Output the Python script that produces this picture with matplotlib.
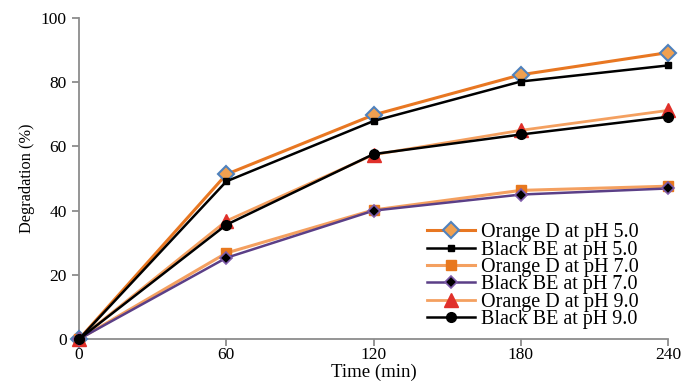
import matplotlib.pyplot as plt
import numpy as np

plt.rcParams['font.family'] = ['Liberation Serif', 'DejaVu Serif']

time = [0, 60, 120, 180, 240]
orange_ph5 = [0, 51.3, 69.8, 82.3, 89.2]
black_ph5 = [0, 49.1, 67.9, 80.2, 85.2]
orange_ph7 = [0, 26.8, 40.2, 46.3, 47.6]
black_ph7 = [0, 25.3, 40.0, 45.0, 46.9]
orange_ph9 = [0, 36.8, 57.4, 65.0, 71.2]
black_ph9 = [0, 35.6, 57.6, 63.7, 69.2]

fig = plt.figure(figsize=(6.88, 3.81), dpi=100)
ax = fig.add_axes([0.115, 0.110, 0.856, 0.843])

# 線とマーカー
ax.plot(time, orange_ph5, color='#E87722', lw=2.2, marker='D', ms=8,
        mfc='#F0A050', mec='#4F81BD', mew=1.5, label='Orange D at pH 5.0', zorder=3)
ax.plot(time, black_ph5, color='black', lw=1.8, marker='s', ms=5,
        label='Black BE at pH 5.0', zorder=4)
ax.plot(time, orange_ph7, color='#F4A060', lw=2.2, marker='s', ms=7,
        mfc='#E8781E', mec='#E8781E', label='Orange D at pH 7.0', zorder=3)
ax.plot(time, black_ph7, color='#5B3F87', lw=1.8, marker='D', ms=6,
        mfc='black', mec='#7E5BAA', mew=1.2, label='Black BE at pH 7.0', zorder=4)
ax.plot(time, orange_ph9, color='#F4A060', lw=2.0, marker='^', ms=10,
        mfc='#E0302A', mec='#E0302A', label='Orange D at pH 9.0', zorder=3)
ax.plot(time, black_ph9, color='black', lw=1.8, marker='o', ms=7,
        label='Black BE at pH 9.0', zorder=4)

ax.set_xlim(0, 240)
ax.set_ylim(0, 100)
ax.set_xticks(time)
ax.set_yticks(np.arange(0, 101, 20))
for s in ['top', 'right']:
    ax.spines[s].set_visible(False)
for s in ['left', 'bottom']:
    ax.spines[s].set_color('#8C8C8C')
    ax.spines[s].set_linewidth(1.3)
ax.tick_params(axis='both', colors='#8C8C8C', length=5, width=1.3, labelsize=12.5,
               labelcolor='black')
ax.tick_params(axis='x', direction='out', pad=1)
ax.tick_params(axis='y', pad=4)
ax.set_xlabel('Time (min)', fontsize=13.5, labelpad=0)
ax.set_ylabel('Degradation (%)', fontsize=11.8, labelpad=4)

ax.legend(loc='lower right', bbox_to_anchor=(0.975, -0.012), frameon=False,
          fontsize=14.5, handlelength=2.4, labelspacing=-0.09, borderpad=0.2,
          handletextpad=0.3)

for line in ax.get_lines():
    line.set_clip_on(False)

fig.savefig('out.png', dpi=100)
